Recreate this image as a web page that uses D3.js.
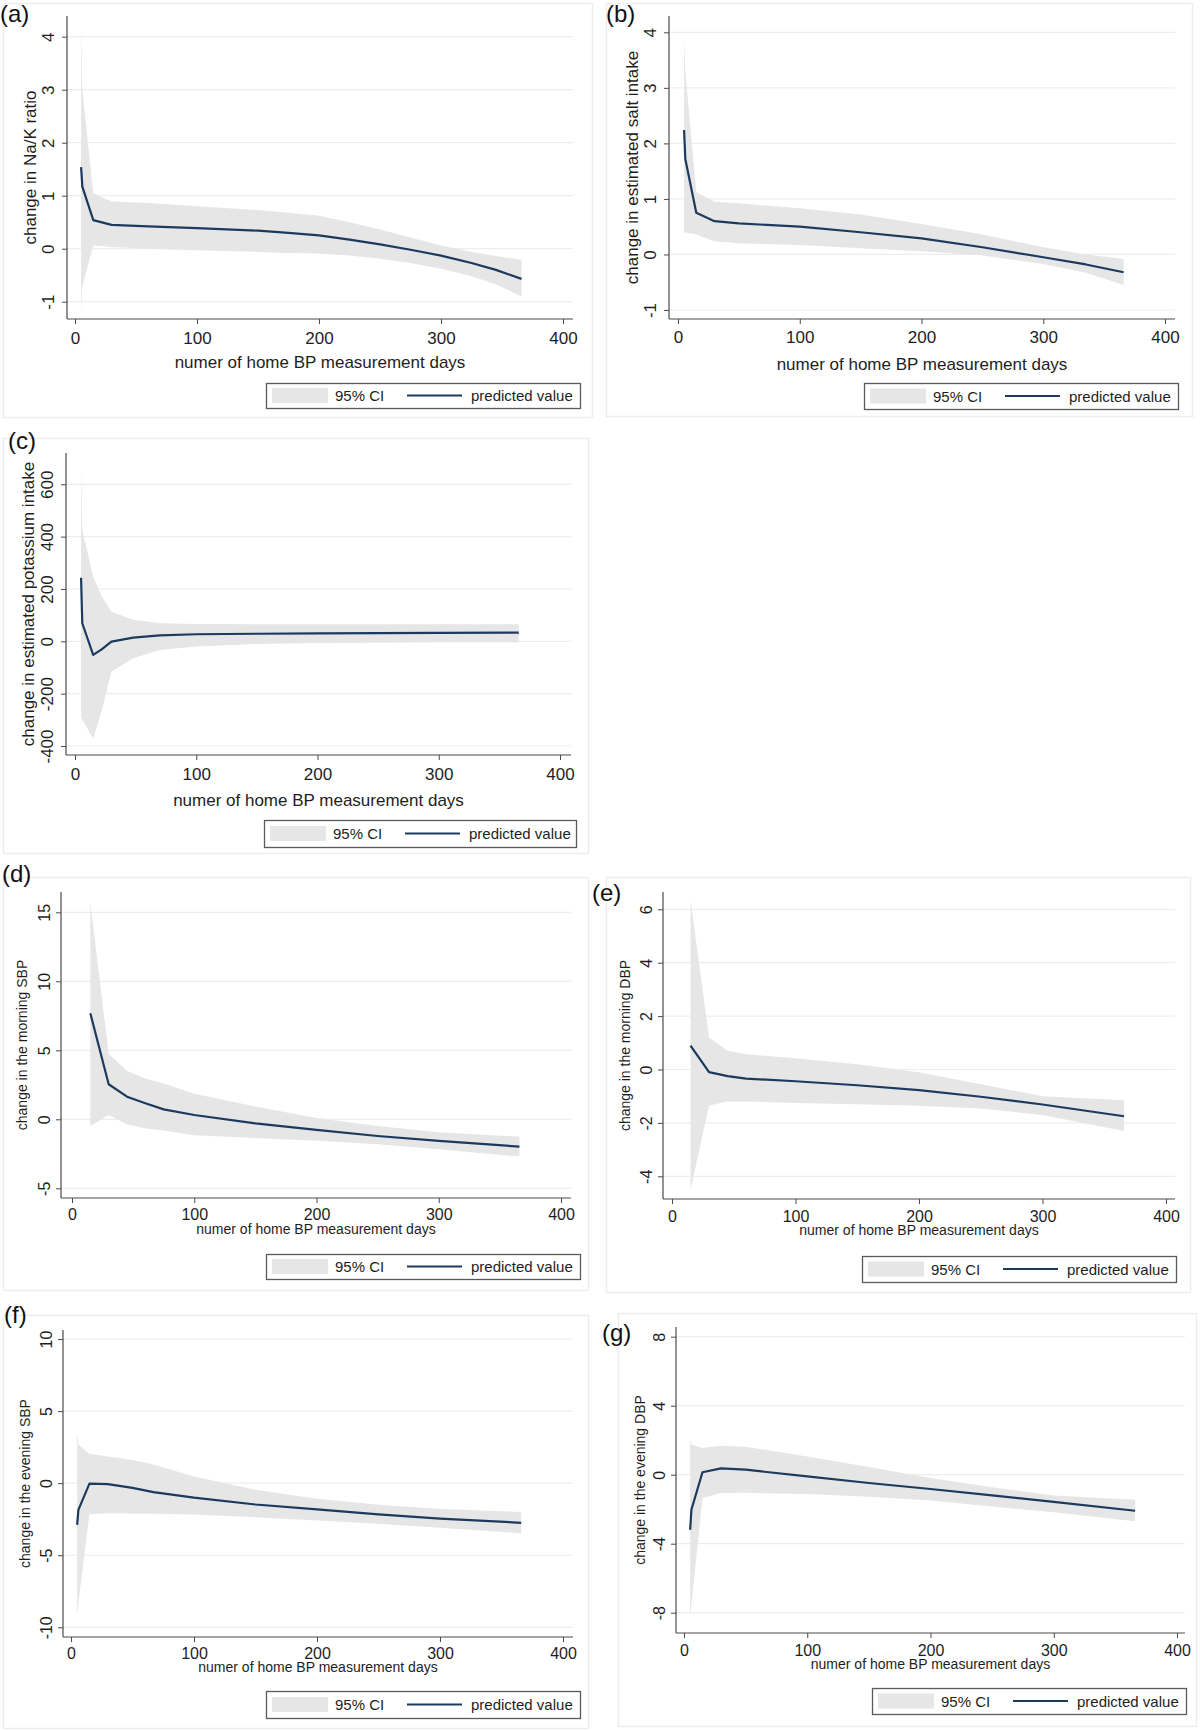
<!DOCTYPE html>
<html><head><meta charset="utf-8">
<script src="https://cdnjs.cloudflare.com/ajax/libs/d3/7.8.5/d3.min.js"></script>
<style>
html,body{margin:0;padding:0;background:#fff;}
svg{display:block;font-family:"Liberation Sans",Arial,Helvetica,sans-serif;}
</style></head><body>
<svg id="chart" width="1200" height="1730"></svg>
<script>
// ---------- data ----------
const xTickValues = [0, 100, 200, 300, 400];
const xTitle = "numer of home BP measurement days";
const legendLabels = ["95% CI", "predicted value"];
const panelLabels = ["(a)", "(b)", "(c)", "(d)", "(e)", "(f)", "(g)"];
const yTitles = [
  "change in Na/K ratio",
  "change in estimated salt intake",
  "change in estimated potassium intake",
  "change in the morning SBP",
  "change in the morning DBP",
  "change in the evening SBP",
  "change in the evening DBP"
];

// (a) Na/K ratio
const days_a = [5, 6, 15, 30, 60, 100, 150, 175, 200, 225, 250, 275, 300, 325, 345, 366];
const pred_a = [1.54, 1.17, 0.54, 0.45, 0.42, 0.39, 0.34, 0.30, 0.25, 0.17, 0.08, -0.02, -0.13, -0.27, -0.40, -0.57];
const hi_a   = [4.2, 3.0, 1.04, 0.89, 0.86, 0.80, 0.73, 0.68, 0.62, 0.50, 0.36, 0.21, 0.06, -0.06, -0.14, -0.21];
const lo_a   = [-1.2, -0.72, 0.06, 0.03, 0.0, -0.03, -0.06, -0.08, -0.09, -0.13, -0.19, -0.27, -0.38, -0.52, -0.67, -0.90];
const yTicks_a = [-1, 0, 1, 2, 3, 4];

// (b) salt intake
const days_b = [5, 6, 15, 30, 50, 100, 150, 200, 250, 300, 335, 366];
const pred_b = [2.24, 1.72, 0.75, 0.60, 0.56, 0.50, 0.40, 0.29, 0.13, -0.05, -0.18, -0.32];
const hi_b   = [3.95, 3.3, 1.12, 0.95, 0.92, 0.83, 0.72, 0.55, 0.36, 0.13, 0.0, -0.08];
const lo_b   = [0.38, 0.40, 0.36, 0.24, 0.20, 0.17, 0.11, 0.06, -0.02, -0.17, -0.33, -0.55];
const yTicks_b = [-1, 0, 1, 2, 3, 4];

// (c) potassium intake
const days_c = [5, 6, 15, 22, 30, 48, 70, 100, 150, 200, 250, 300, 366];
const pred_c = [243, 69, -52, -31, -1, 14, 23, 27, 29, 30, 31, 32, 33];
const hi_c   = [667, 425, 247, 172, 113, 82, 69, 66, 65, 65, 65, 65, 65];
const lo_c   = [-288, -300, -371, -266, -116, -65, -33, -20, -10, -6, -5, -4, -4];
const yTicks_c = [-400, -200, 0, 200, 400, 600];

// (d) morning SBP
const days_d = [15, 30, 45, 60, 75, 100, 150, 200, 250, 300, 366];
const pred_d = [7.68, 2.54, 1.64, 1.16, 0.72, 0.31, -0.29, -0.77, -1.21, -1.57, -1.98];
const hi_d   = [15.7, 4.75, 3.5, 2.95, 2.6, 1.86, 0.92, 0.1, -0.48, -0.94, -1.26];
const lo_d   = [-0.48, 0.31, -0.36, -0.65, -0.82, -1.16, -1.35, -1.55, -1.81, -2.17, -2.7];
const yTicks_d = [-5, 0, 5, 10, 15];

// (e) morning DBP
const days_e = [15, 30, 45, 60, 100, 150, 200, 250, 300, 366];
const pred_e = [0.89, -0.10, -0.25, -0.34, -0.44, -0.59, -0.77, -1.02, -1.31, -1.75];
const hi_e   = [6.35, 1.2, 0.7, 0.57, 0.42, 0.2, -0.1, -0.55, -1.0, -1.15];
const lo_e   = [-4.5, -1.35, -1.2, -1.2, -1.25, -1.3, -1.36, -1.46, -1.7, -2.3];
const yTicks_e = [-4, -2, 0, 2, 4, 6];

// (f) evening SBP
const days_f = [5, 6, 15, 30, 50, 67, 100, 150, 200, 250, 300, 366];
const pred_f = [-2.89, -1.85, -0.03, -0.07, -0.33, -0.62, -1.0, -1.48, -1.82, -2.16, -2.46, -2.75];
const hi_f   = [3.5, 2.68, 2.03, 1.85, 1.6, 1.3, 0.46, -0.46, -1.09, -1.5, -1.8, -2.0];
const lo_f   = [-9.18, -8.3, -2.15, -2.08, -2.1, -2.12, -2.17, -2.36, -2.59, -2.82, -3.1, -3.47];
const yTicks_f = [-10, -5, 0, 5, 10];

// (g) evening DBP
const days_g = [5, 6, 15, 30, 50, 100, 150, 200, 250, 300, 366];
const pred_g = [-3.19, -2.03, 0.14, 0.37, 0.29, -0.10, -0.48, -0.83, -1.20, -1.57, -2.09];
const hi_g   = [2.13, 1.74, 1.55, 1.68, 1.62, 1.06, 0.44, -0.19, -0.73, -1.2, -1.45];
const lo_g   = [-8.2, -7.5, -1.35, -1.06, -1.05, -1.12, -1.28, -1.5, -1.84, -2.18, -2.7];
const yTicks_g = [-8, -4, 0, 4, 8];

// table built from the arrays above
const panels = [
  {days: days_a, pred: pred_a, lo: lo_a, hi: hi_a, yTicks: yTicks_a},
  {days: days_b, pred: pred_b, lo: lo_b, hi: hi_b, yTicks: yTicks_b},
  {days: days_c, pred: pred_c, lo: lo_c, hi: hi_c, yTicks: yTicks_c},
  {days: days_d, pred: pred_d, lo: lo_d, hi: hi_d, yTicks: yTicks_d},
  {days: days_e, pred: pred_e, lo: lo_e, hi: hi_e, yTicks: yTicks_e},
  {days: days_f, pred: pred_f, lo: lo_f, hi: hi_f, yTicks: yTicks_f},
  {days: days_g, pred: pred_g, lo: lo_g, hi: hi_g, yTicks: yTicks_g}
].map((p, i) => Object.assign(p, {label: panelLabels[i], yTitle: yTitles[i]}));

// ---------- layout (positions / sizes) ----------
const layout = [
  {frame:[3,3,592,417], lab:[0,22], rect:[67,16,573,319], xPx:[75,563], yPx:[36.7,301.7],
   tickFs:17, titleFs:17, ytX:36, xtY:368, xTickOff:25, yTickOff:13, legend:[266,383,314,25]},
  {frame:[606,3,1192,416], lab:[606,22], rect:[669,16,1175,319], xPx:[678,1165], yPx:[32.3,310],
   tickFs:17, titleFs:17, ytX:638, xtY:370, xTickOff:24, yTickOff:13, legend:[864,383,314,26]},
  {frame:[3,438,588,853], lab:[8,449], rect:[66,453,571,755], xPx:[75,560], yPx:[484.3,746],
   tickFs:17, titleFs:17, ytX:34, xtY:806, xTickOff:25, yTickOff:13, legend:[264,820,312,27]},
  {frame:[3,877,588,1290], lab:[2,882], rect:[61,892,571,1198], xPx:[72,561], yPx:[912.3,1188.3],
   tickFs:16, titleFs:14, ytX:27, xtY:1234, xTickOff:22, yTickOff:11, legend:[266,1254,314,25]},
  {frame:[606,877,1190,1292], lab:[592,901], rect:[663,892,1175,1199], xPx:[672,1166], yPx:[909.3,1176.3],
   tickFs:16, titleFs:14, ytX:630, xtY:1235, xTickOff:23, yTickOff:11, legend:[862,1256,314,26]},
  {frame:[3,1315,588,1728], lab:[4,1323], rect:[63,1330,573,1637], xPx:[71,563], yPx:[1339,1627.3],
   tickFs:16, titleFs:14, ytX:30, xtY:1672, xTickOff:22, yTickOff:11, legend:[266,1691,314,27]},
  {frame:[618,1313,1196,1726], lab:[602,1341], rect:[676,1327,1185,1633], xPx:[684,1177], yPx:[1336.7,1612.7],
   tickFs:16, titleFs:14, ytX:645, xtY:1669, xTickOff:23, yTickOff:11, legend:[872,1688,314,26]}
];

const COL_LINE = "#1c3a5e", COL_CI = "#e6e6e6", COL_GRID = "#e8eff1",
      COL_AXIS = "#4a4a4a", COL_TEXT = "#1e1e1e", COL_FRAME = "#ededed";

const svg = d3.select("#chart");
svg.append("rect").attr("width", 1200).attr("height", 1730).attr("fill", "#fff");

panels.forEach((p, i) => drawPanel(p, layout[i]));

function drawPanel(p, g) {
  const root = svg.append("g");
  const [L, T, R, B] = g.rect;

  // light panel frame
  root.append("rect")
    .attr("x", g.frame[0] + 0.5).attr("y", g.frame[1] + 0.5)
    .attr("width", g.frame[2] - g.frame[0]).attr("height", g.frame[3] - g.frame[1])
    .attr("fill", "none").attr("stroke", COL_FRAME).attr("stroke-width", 1.5);

  const x = d3.scaleLinear().domain([0, 400]).range(g.xPx);
  const y = d3.scaleLinear().domain([d3.max(p.yTicks), d3.min(p.yTicks)]).range(g.yPx);

  // gridlines
  root.append("g").selectAll("line").data(p.yTicks).join("line")
    .attr("x1", L).attr("x2", R)
    .attr("y1", d => y(d)).attr("y2", d => y(d))
    .attr("stroke", COL_GRID).attr("stroke-width", 1.2);

  const rows = p.days.map((d, k) => ({day: d, pred: p.pred[k], lo: p.lo[k], hi: p.hi[k]}));

  // CI band
  root.append("path").datum(rows)
    .attr("d", d3.area().x(d => x(d.day)).y0(d => y(d.lo)).y1(d => y(d.hi)))
    .attr("fill", COL_CI);

  // predicted line
  root.append("path").datum(rows)
    .attr("d", d3.line().x(d => x(d.day)).y(d => y(d.pred)))
    .attr("fill", "none").attr("stroke", COL_LINE).attr("stroke-width", 2.2)
    .attr("stroke-linejoin", "round");

  // y axis
  const ya = root.append("g").attr("transform", `translate(${L},0)`)
    .call(d3.axisLeft(y).tickValues(p.yTicks).tickSize(5).tickSizeOuter(0).tickFormat(d => String(d)));
  ya.select(".domain").remove();
  ya.attr("font-family", null).attr("font-size", null);
  ya.selectAll(".tick line").attr("stroke", COL_AXIS);
  ya.selectAll(".tick text")
    .attr("transform", "rotate(-90)").attr("x", 0).attr("y", -g.yTickOff).attr("dy", 0)
    .attr("text-anchor", "middle").attr("fill", COL_TEXT).style("font-size", g.tickFs + "px");
  root.append("line").attr("x1", L).attr("x2", L).attr("y1", T).attr("y2", B)
    .attr("stroke", COL_AXIS).attr("stroke-width", 1.2);

  // x axis
  const xa = root.append("g").attr("transform", `translate(0,${B})`)
    .call(d3.axisBottom(x).tickValues(xTickValues).tickSize(5).tickSizeOuter(0).tickFormat(d => String(d)));
  xa.select(".domain").remove();
  xa.attr("font-family", null).attr("font-size", null);
  xa.selectAll(".tick line").attr("stroke", COL_AXIS);
  xa.selectAll(".tick text").attr("y", g.xTickOff).attr("dy", 0)
    .attr("fill", COL_TEXT).style("font-size", g.tickFs + "px");
  root.append("line").attr("x1", L).attr("x2", R).attr("y1", B).attr("y2", B)
    .attr("stroke", COL_AXIS).attr("stroke-width", 1.2);

  // titles
  root.append("text")
    .attr("transform", `translate(${g.ytX},${(T + B) / 2}) rotate(-90)`)
    .attr("text-anchor", "middle").attr("fill", COL_TEXT)
    .style("font-size", g.titleFs + "px").text(p.yTitle);
  root.append("text")
    .attr("x", (L + R) / 2).attr("y", g.xtY)
    .attr("text-anchor", "middle").attr("fill", COL_TEXT)
    .style("font-size", g.titleFs + "px").text(xTitle);

  // panel label
  root.append("text").attr("x", g.lab[0]).attr("y", g.lab[1])
    .attr("fill", "#111").style("font-size", "24px").text(p.label);

  // legend
  const [lx, ly, lw, lh] = g.legend;
  const cy = ly + lh / 2;
  const lg = root.append("g");
  lg.append("rect").attr("x", lx + 0.5).attr("y", ly + 0.5).attr("width", lw).attr("height", lh)
    .attr("fill", "#fff").attr("stroke", "#5a5a5a").attr("stroke-width", 1.3);
  lg.append("rect").attr("x", lx + 6).attr("y", cy - 7.5).attr("width", 56).attr("height", 15)
    .attr("fill", COL_CI);
  lg.append("text").attr("x", lx + 69).attr("y", cy + 5.5).attr("fill", COL_TEXT)
    .style("font-size", "15px").text(legendLabels[0]);
  lg.append("line").attr("x1", lx + 141).attr("x2", lx + 196).attr("y1", cy).attr("y2", cy)
    .attr("stroke", COL_LINE).attr("stroke-width", 2.2);
  lg.append("text").attr("x", lx + 205).attr("y", cy + 5.5).attr("fill", COL_TEXT)
    .style("font-size", "15px").text(legendLabels[1]);
}
</script>
</body></html>
